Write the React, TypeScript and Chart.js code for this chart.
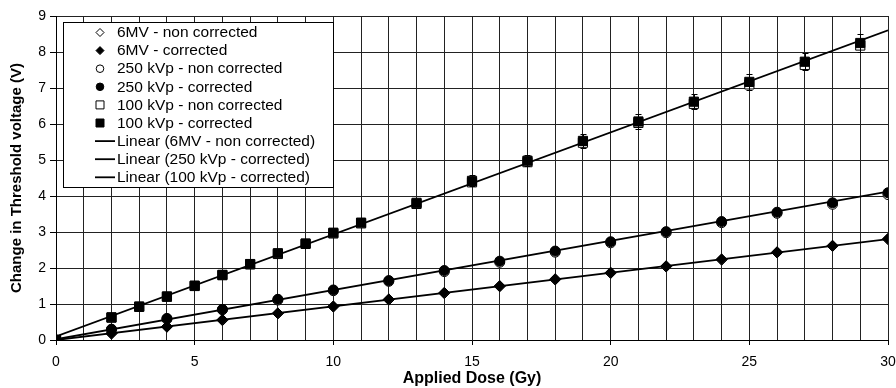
import React, { useEffect, useRef } from "react";
import { Chart, registerables } from "chart.js";

Chart.register(...registerables);

// ---- data ----
const dose100 = [0, 2, 3, 4, 5, 6, 7, 8, 9, 10, 11, 13, 15, 17, 19, 21, 23, 25, 27, 29];
const kvp100Non = [0, 0.62, 0.92, 1.2, 1.5, 1.8, 2.1, 2.39, 2.67, 2.96, 3.24, 3.78, 4.38, 4.94, 5.48, 6.03, 6.56, 7.1, 7.64, 8.18];
const kvp100Corr = [0, 0.63, 0.93, 1.21, 1.51, 1.81, 2.11, 2.41, 2.68, 2.98, 3.26, 3.81, 4.42, 4.98, 5.53, 6.07, 6.62, 7.17, 7.73, 8.25];
const kvp100Err = [0, 0.02, 0.03, 0.03, 0.04, 0.05, 0.05, 0.06, 0.07, 0.08, 0.08, 0.1, 0.15, 0.15, 0.19, 0.2, 0.21, 0.22, 0.24, 0.25];

const doseEven = [0, 2, 4, 6, 8, 10, 12, 14, 16, 18, 20, 22, 24, 26, 28, 30];
const kvp250Non = [0, 0.29, 0.58, 0.84, 1.11, 1.37, 1.63, 1.9, 2.16, 2.44, 2.7, 2.98, 3.26, 3.52, 3.77, 4.04];
const kvp250Corr = [0, 0.3, 0.6, 0.85, 1.13, 1.39, 1.65, 1.93, 2.19, 2.47, 2.73, 3.01, 3.29, 3.55, 3.81, 4.09];
const mv6Non = [0, 0.18, 0.37, 0.55, 0.74, 0.93, 1.12, 1.3, 1.49, 1.68, 1.86, 2.04, 2.23, 2.43, 2.61, 2.8];
const mv6Corr = [0, 0.18, 0.37, 0.56, 0.74, 0.93, 1.13, 1.31, 1.5, 1.69, 1.87, 2.05, 2.24, 2.44, 2.62, 2.81];

const trendX = [0, 30];
const trend6MV = [0.0, 2.8];
const trend250 = [0.02, 4.12];
const trend100 = [0.1, 8.6];

const xTickLabels = [0, 5, 10, 15, 20, 25, 30];
const yTickLabels = [0, 1, 2, 3, 4, 5, 6, 7, 8, 9];

const legendLabels = [
  "6MV - non corrected",
  "6MV - corrected",
  "250 kVp - non corrected",
  "250 kVp - corrected",
  "100 kVp - non corrected",
  "100 kVp - corrected",
  "Linear (6MV - non corrected)",
  "Linear (250 kVp - corrected)",
  "Linear (100 kVp - corrected)",
];

const FONT = 'Arial, "Liberation Sans", Helvetica, sans-serif';

function pts(xs: number[], ys: number[]) {
  return xs.map((x, i) => ({ x, y: ys[i] }));
}

const errorBarPlugin = {
  id: "errorBars",
  afterDatasetsDraw(chart: any) {
    const ctx = chart.ctx;
    const xs = chart.scales.x;
    const ys = chart.scales.y;
    chart.data.datasets.forEach((ds: any) => {
      if (!ds.errors) return;
      ctx.save();
      ctx.strokeStyle = "#000";
      ctx.lineWidth = 1;
      ds.data.forEach((p: any, i: number) => {
        const e = ds.errors[i];
        if (!e) return;
        const px = Math.round(xs.getPixelForValue(p.x)) + 0.5;
        const yTop = ys.getPixelForValue(p.y + e);
        const yBot = ys.getPixelForValue(p.y - e);
        ctx.beginPath();
        ctx.moveTo(px, yTop);
        ctx.lineTo(px, yBot);
        ctx.moveTo(px - 3, Math.round(yTop) + 0.5);
        ctx.lineTo(px + 3, Math.round(yTop) + 0.5);
        ctx.moveTo(px - 3, Math.round(yBot) + 0.5);
        ctx.lineTo(px + 3, Math.round(yBot) + 0.5);
        ctx.stroke();
      });
      ctx.restore();
    });
  },
};

const legendPlugin = {
  id: "boxLegend",
  afterDraw(chart: any) {
    const ctx = chart.ctx;
    const area = chart.chartArea;
    const bx = area.left + 7;
    const by = area.top + 6;
    const bw = 270;
    const bh = 165;
    ctx.save();
    ctx.fillStyle = "#fff";
    ctx.fillRect(bx, by, bw, bh);
    ctx.strokeStyle = "#000";
    ctx.lineWidth = 1;
    ctx.strokeRect(Math.round(bx) + 0.5, Math.round(by) + 0.5, bw, bh);
    ctx.font = `15.5px ${FONT}`;
    ctx.textBaseline = "middle";
    ctx.textAlign = "left";
    const datasets = chart.data.datasets;
    legendLabels.forEach((label, i) => {
      const ds = datasets[i];
      const cy = by + 10.5 + i * 18.1;
      const mx = bx + 37;
      ctx.fillStyle = "#000";
      ctx.strokeStyle = "#000";
      ctx.lineWidth = 1;
      if (ds.showLine) {
        ctx.lineWidth = 1.8;
        ctx.beginPath();
        ctx.moveTo(bx + 32, cy);
        ctx.lineTo(bx + 52, cy);
        ctx.stroke();
      } else {
        const filled = ds.backgroundColor === "#000";
        ctx.fillStyle = filled ? "#000" : "#fff";
        ctx.beginPath();
        if (ds.pointStyle === "rectRot") {
          const r = 4;
          ctx.moveTo(mx, cy - r);
          ctx.lineTo(mx + r, cy);
          ctx.lineTo(mx, cy + r);
          ctx.lineTo(mx - r, cy);
          ctx.closePath();
        } else if (ds.pointStyle === "circle") {
          ctx.arc(mx, cy, 3.8, 0, Math.PI * 2);
        } else {
          ctx.rect(mx - 4, cy - 4, 8, 8);
        }
        ctx.fill();
        ctx.stroke();
      }
      ctx.fillStyle = "#000";
      ctx.fillText(label, bx + 54, cy + 0.5);
    });
    ctx.restore();
  },
};

export default function App() {
  const ref = useRef<HTMLCanvasElement>(null);

  useEffect(() => {
    document.body.style.margin = "0";
    const canvas = ref.current;
    if (!canvas) return;

    const marker = (label: string, data: any, style: string, filled: boolean, radius: number, order: number, extra: any = {}) => ({
      label,
      data,
      showLine: false,
      pointStyle: style,
      pointRadius: radius,
      pointHoverRadius: radius,
      backgroundColor: filled ? "#000" : "#fff",
      borderColor: "#000",
      pointBorderWidth: 1,
      borderWidth: 1,
      order,
      ...extra,
    });
    const trend = (label: string, ys: number[]) => ({
      label,
      data: pts(trendX, ys),
      showLine: true,
      pointRadius: 0,
      borderColor: "#000",
      backgroundColor: "#000",
      borderWidth: 1.8,
      fill: false,
      order: 0,
    });

    const chart = new Chart(canvas, {
      type: "scatter",
      data: {
        datasets: [
          marker(legendLabels[0], pts(doseEven, mv6Non), "rectRot", false, 5.5, 4),
          marker(legendLabels[1], pts(doseEven, mv6Corr), "rectRot", true, 5.5, 3),
          marker(legendLabels[2], pts(doseEven, kvp250Non), "circle", false, 5, 4),
          marker(legendLabels[3], pts(doseEven, kvp250Corr), "circle", true, 5, 3),
          marker(legendLabels[4], pts(dose100, kvp100Non), "rect", false, 6.5, 4),
          marker(legendLabels[5], pts(dose100, kvp100Corr), "rect", true, 6.5, 3, { errors: kvp100Err }),
          trend(legendLabels[6], trend6MV),
          trend(legendLabels[7], trend250),
          trend(legendLabels[8], trend100),
        ] as any,
      },
      options: {
        animation: false,
        responsive: true,
        maintainAspectRatio: false,
        layout: { padding: { top: 16, right: 8, left: 0, bottom: 0 } },
        plugins: {
          legend: { display: false },
          tooltip: { enabled: false },
        },
        scales: {
          x: {
            type: "linear",
            min: xTickLabels[0],
            max: xTickLabels[xTickLabels.length - 1],
            ticks: {
              stepSize: 1,
              autoSkip: false,
              maxRotation: 0,
              color: "#000",
              padding: 9,
              font: { family: FONT, size: 14 },
              callback: (v: any) => (xTickLabels.includes(Number(v)) ? String(v) : ""),
            },
            grid: {
              color: "#222",
              lineWidth: 1,
              tickLength: 5,
              tickColor: (c: any) =>
                c.tick && xTickLabels.includes(c.tick.value) ? "#000" : "rgba(0,0,0,0)",
            },
            border: { color: "#000", width: 1 },
            title: {
              display: true,
              text: "Applied Dose (Gy)",
              color: "#000",
              font: { family: FONT, size: 16, weight: "bold" },
              padding: { top: 0, bottom: 0 },
            },
            afterFit: (s: any) => {
              s.height = 48;
              s.paddingLeft = 0;
              s.paddingRight = 0;
            },
          },
          y: {
            type: "linear",
            min: yTickLabels[0],
            max: yTickLabels[yTickLabels.length - 1],
            ticks: {
              stepSize: 1,
              color: "#000",
              padding: 4,
              font: { family: FONT, size: 14 },
              callback: (v: any) => (yTickLabels.includes(Number(v)) ? String(v) : ""),
            },
            grid: { color: "#222", lineWidth: 1, tickLength: 6, tickColor: "#000" },
            border: { color: "#000", width: 1 },
            title: {
              display: true,
              text: "Change in Threshold voltage (V)",
              color: "#000",
              font: { family: FONT, size: 15, weight: "bold" },
              padding: { top: 8, bottom: 0 },
            },
            afterFit: (s: any) => {
              s.width = 56;
              s.paddingTop = 0;
              s.paddingBottom = 0;
            },
          },
        },
      } as any,
      plugins: [errorBarPlugin, legendPlugin],
    });

    return () => chart.destroy();
  }, []);

  return (
    <div style={{ position: "fixed", left: 0, top: 0, width: 896, height: 388, background: "#fff" }}>
      <canvas ref={ref} />
    </div>
  );
}
